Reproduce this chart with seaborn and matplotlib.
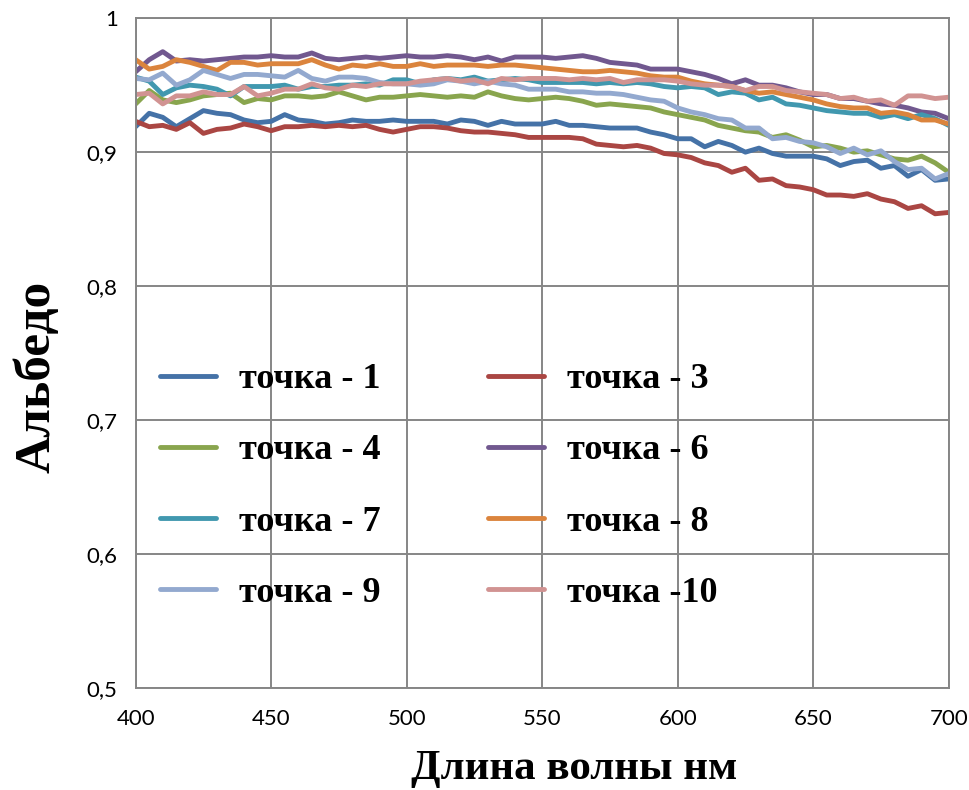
import matplotlib
matplotlib.use("Agg")
import matplotlib.pyplot as plt
import numpy as np
import pandas as pd
import seaborn as sns

# ---------------- data ----------------
wavelength = [400, 405, 410, 415, 420, 425, 430, 435, 440, 445, 450,
              455, 460, 465, 470, 475, 480, 485, 490, 495, 500,
              505, 510, 515, 520, 525, 530, 535, 540, 545, 550,
              555, 560, 565, 570, 575, 580, 585, 590, 595, 600,
              605, 610, 615, 620, 625, 630, 635, 640, 645, 650,
              655, 660, 665, 670, 675, 680, 685, 690, 695, 700]

p1 = [0.919, 0.929, 0.926, 0.919, 0.925, 0.931, 0.929, 0.928, 0.924, 0.922, 0.923,
      0.928, 0.924, 0.923, 0.921, 0.922, 0.924, 0.923, 0.923, 0.924, 0.923,
      0.923, 0.923, 0.921, 0.924, 0.923, 0.920, 0.923, 0.921, 0.921, 0.921,
      0.923, 0.920, 0.920, 0.919, 0.918, 0.918, 0.918, 0.915, 0.913, 0.910,
      0.910, 0.904, 0.908, 0.905, 0.900, 0.903, 0.899, 0.897, 0.897, 0.897,
      0.895, 0.890, 0.893, 0.894, 0.888, 0.890, 0.882, 0.887, 0.879, 0.880]
p3 = [0.923, 0.919, 0.920, 0.917, 0.922, 0.914, 0.917, 0.918, 0.921, 0.919, 0.916,
      0.919, 0.919, 0.920, 0.919, 0.920, 0.919, 0.920, 0.917, 0.915, 0.917,
      0.919, 0.919, 0.918, 0.916, 0.915, 0.915, 0.914, 0.913, 0.911, 0.911,
      0.911, 0.911, 0.910, 0.906, 0.905, 0.904, 0.905, 0.903, 0.899, 0.898,
      0.896, 0.892, 0.890, 0.885, 0.888, 0.879, 0.880, 0.875, 0.874, 0.872,
      0.868, 0.868, 0.867, 0.869, 0.865, 0.863, 0.858, 0.860, 0.854, 0.855]
p4 = [0.936, 0.946, 0.939, 0.937, 0.939, 0.942, 0.943, 0.944, 0.937, 0.940, 0.939,
      0.942, 0.942, 0.941, 0.942, 0.945, 0.942, 0.939, 0.941, 0.941, 0.942,
      0.943, 0.942, 0.941, 0.942, 0.941, 0.945, 0.942, 0.940, 0.939, 0.940,
      0.941, 0.940, 0.938, 0.935, 0.936, 0.935, 0.934, 0.933, 0.930, 0.928,
      0.926, 0.924, 0.920, 0.918, 0.916, 0.915, 0.911, 0.913, 0.909, 0.904,
      0.905, 0.903, 0.900, 0.901, 0.898, 0.895, 0.894, 0.897, 0.892, 0.885]
p6 = [0.960, 0.969, 0.975, 0.968, 0.969, 0.968, 0.969, 0.970, 0.971, 0.971, 0.972,
      0.971, 0.971, 0.974, 0.970, 0.969, 0.970, 0.971, 0.970, 0.971, 0.972,
      0.971, 0.971, 0.972, 0.971, 0.969, 0.971, 0.968, 0.971, 0.971, 0.971,
      0.970, 0.971, 0.972, 0.970, 0.967, 0.966, 0.965, 0.962, 0.962, 0.962,
      0.960, 0.958, 0.955, 0.951, 0.954, 0.950, 0.950, 0.948, 0.945, 0.943,
      0.943, 0.940, 0.940, 0.938, 0.936, 0.935, 0.933, 0.930, 0.929, 0.925]
p7 = [0.956, 0.953, 0.943, 0.948, 0.950, 0.949, 0.947, 0.942, 0.949, 0.949, 0.949,
      0.950, 0.947, 0.949, 0.949, 0.950, 0.950, 0.951, 0.950, 0.954, 0.954,
      0.951, 0.954, 0.955, 0.954, 0.956, 0.953, 0.954, 0.955, 0.954, 0.952,
      0.952, 0.952, 0.952, 0.951, 0.952, 0.951, 0.952, 0.951, 0.949, 0.948,
      0.949, 0.948, 0.943, 0.945, 0.944, 0.939, 0.941, 0.936, 0.935, 0.933,
      0.931, 0.930, 0.929, 0.929, 0.926, 0.928, 0.925, 0.928, 0.925, 0.920]
p8 = [0.969, 0.962, 0.964, 0.969, 0.967, 0.964, 0.961, 0.967, 0.967, 0.965, 0.966,
      0.966, 0.966, 0.969, 0.965, 0.962, 0.965, 0.964, 0.966, 0.964, 0.964,
      0.966, 0.964, 0.965, 0.965, 0.965, 0.964, 0.965, 0.965, 0.964, 0.963,
      0.962, 0.961, 0.960, 0.960, 0.961, 0.960, 0.959, 0.957, 0.956, 0.956,
      0.953, 0.951, 0.950, 0.949, 0.946, 0.944, 0.945, 0.943, 0.941, 0.939,
      0.936, 0.934, 0.933, 0.933, 0.929, 0.930, 0.928, 0.924, 0.924, 0.921]
p9 = [0.955, 0.954, 0.959, 0.950, 0.954, 0.961, 0.958, 0.955, 0.958, 0.958, 0.957,
      0.956, 0.961, 0.955, 0.953, 0.956, 0.956, 0.955, 0.952, 0.951, 0.951,
      0.950, 0.951, 0.954, 0.953, 0.951, 0.953, 0.951, 0.950, 0.947, 0.947,
      0.947, 0.945, 0.945, 0.944, 0.944, 0.943, 0.941, 0.939, 0.938, 0.933,
      0.930, 0.928, 0.925, 0.924, 0.918, 0.918, 0.910, 0.911, 0.908, 0.907,
      0.904, 0.899, 0.903, 0.898, 0.901, 0.893, 0.887, 0.888, 0.880, 0.884]
p10 = [0.943, 0.944, 0.936, 0.942, 0.942, 0.945, 0.943, 0.943, 0.949, 0.942, 0.944,
       0.947, 0.947, 0.951, 0.948, 0.947, 0.950, 0.949, 0.951, 0.951, 0.951,
       0.953, 0.954, 0.955, 0.953, 0.954, 0.951, 0.955, 0.954, 0.955, 0.955,
       0.955, 0.954, 0.955, 0.954, 0.955, 0.952, 0.954, 0.954, 0.954, 0.953,
       0.951, 0.950, 0.950, 0.949, 0.946, 0.949, 0.949, 0.946, 0.945, 0.944,
       0.943, 0.940, 0.941, 0.938, 0.939, 0.935, 0.942, 0.942, 0.940, 0.941]

series_names = ["точка - 1", "точка - 3", "точка - 4", "точка - 6",
                "точка - 7", "точка - 8", "точка - 9", "точка -10"]
series_values = [p1, p3, p4, p6, p7, p8, p9, p10]
colors = ["#4572A7", "#AA4643", "#89A54E", "#71588F",
          "#4198AF", "#DB843D", "#93A9CF", "#D19392"]

x_ticks = [400, 450, 500, 550, 600, 650, 700]
y_ticks = [0.5, 0.6, 0.7, 0.8, 0.9, 1.0]
y_tick_labels = ["0,5", "0,6", "0,7", "0,8", "0,9", "1"]
x_title = "Длина волны нм"
y_title = "Альбедо"

# ---------------- table ----------------
rows = []
for name, vals in zip(series_names, series_values):
    for w, v in zip(wavelength, vals):
        rows.append({"wl": w, "albedo": v, "series": name})
df = pd.DataFrame(rows)

# ---------------- plot ----------------
sns.set_style("white")
plt.rcParams["font.family"] = ["Lato", "DejaVu Sans"]
plt.rcParams["text.color"] = "black"
plt.rcParams["axes.labelcolor"] = "black"
plt.rcParams["xtick.color"] = "black"
plt.rcParams["ytick.color"] = "black"

fig = plt.figure(figsize=(9.69, 7.90), dpi=100)
ax = fig.add_axes([0.140, 0.129, 0.839, 0.848])

sns.lineplot(data=df, x="wl", y="albedo", hue="series", hue_order=series_names,
             palette=colors, linewidth=3.5, estimator=None, sort=False,
             legend=False, ax=ax)

grid_c = "#868686"
ax.set_xlim(400, 700)
ax.set_ylim(0.5, 1.0)
ax.set_xticks(x_ticks)
ax.set_yticks(y_ticks)
ax.set_yticklabels(y_tick_labels)
ax.grid(True, color=grid_c, linewidth=1.4)
ax.set_axisbelow(True)
for s in ax.spines.values():
    s.set_color(grid_c)
    s.set_linewidth(1.4)
ax.tick_params(axis="both", length=5, width=1.4, color=grid_c,
               labelsize=16, labelcolor="black", direction="out")
ax.tick_params(axis="x", pad=10)
ax.tick_params(axis="y", pad=8)

serif = ["Liberation Serif", "DejaVu Serif"]
ax.set_xlabel(x_title, fontsize=31, fontweight="bold", family=serif)
ax.set_ylabel(y_title, fontsize=37, fontweight="bold", family=serif)
ax.xaxis.set_label_coords(0.539, -0.092)
ax.yaxis.set_label_coords(-0.092, 0.464)

lines = ax.get_lines()
order = [0, 2, 4, 6, 1, 3, 5, 7]
handles = [lines[i] for i in order]
labels = [series_names[i] for i in order]
leg = fig.legend(handles, labels, loc="upper left",
                 bbox_to_anchor=(160 / 969, 1 - 363 / 790),
                 ncol=2, frameon=False, borderpad=0, borderaxespad=0,
                 handlelength=1.55, handletextpad=0.64, columnspacing=2.98,
                 labelspacing=1.05,
                 prop={"family": serif, "weight": "bold", "size": 26})
for h in leg.get_lines():
    h.set_linewidth(3.5)
for t in leg.get_texts():
    t.set_color("black")

fig.savefig("out.png", dpi=100)
